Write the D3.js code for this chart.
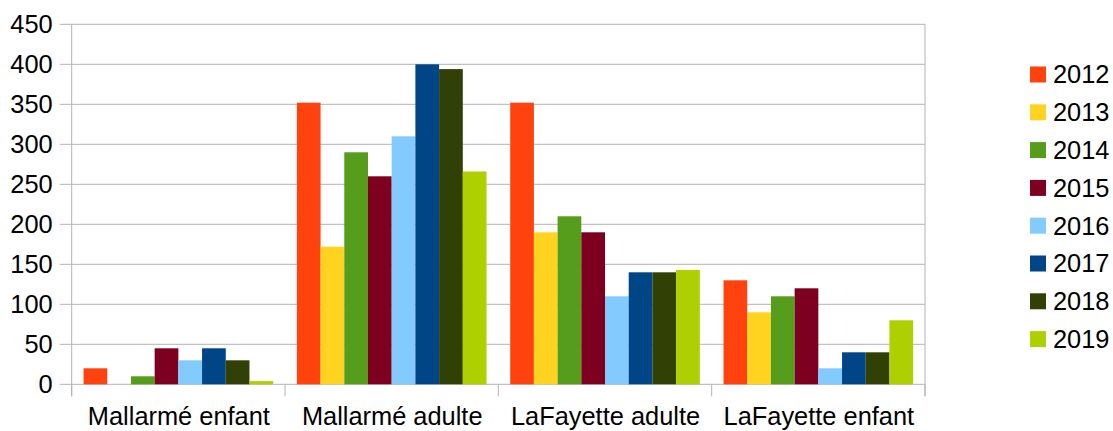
<!DOCTYPE html>
<html>
<head>
<meta charset="utf-8">
<script src="https://cdn.jsdelivr.net/npm/d3@7"></script>
<style>
  body { margin: 0; background: #fff; }
  svg { font-family: "Liberation Sans", Arial, sans-serif; }
</style>
</head>
<body>
<div id="chart"></div>
<script>
var categories = ["Mallarmé enfant", "Mallarmé adulte", "LaFayette adulte", "LaFayette enfant"];
var years = ["2012", "2013", "2014", "2015", "2016", "2017", "2018", "2019"];
var colors = ["#ff420e", "#ffd320", "#579d1c", "#7e0021", "#83caff", "#004586", "#314004", "#aecf00"];

// one array per year, values in category order
var v2012 = [20, 352, 352, 130];
var v2013 = [0, 172, 190, 90];
var v2014 = [10, 290, 210, 110];
var v2015 = [45, 260, 190, 120];
var v2016 = [30, 310, 110, 20];
var v2017 = [45, 400, 140, 40];
var v2018 = [30, 394, 140, 40];
var v2019 = [4, 266, 143, 80];
var yTicks = [0, 50, 100, 150, 200, 250, 300, 350, 400, 450];

var series = [v2012, v2013, v2014, v2015, v2016, v2017, v2018, v2019];

var width = 1113, height = 431;
var plotLeft = 71.7, plotRight = 925, plotTop = 24.3, plotBottom = 384.3;
var fontSize = "25.4px";

var svg = d3.select("#chart").append("svg")
    .attr("width", width)
    .attr("height", height);

var y = d3.scaleLinear().domain([0, 450]).range([plotBottom, plotTop]);

var x0 = d3.scaleBand()
    .domain(categories)
    .range([plotLeft, plotRight])
    .paddingInner(1 / 9)
    .paddingOuter(1 / 18);

var x1 = d3.scaleBand()
    .domain(years)
    .range([0, x0.bandwidth()]);

// gridlines
svg.append("g")
    .selectAll("line")
    .data(yTicks)
    .enter()
    .append("line")
    .attr("x1", plotLeft - 12)
    .attr("x2", plotRight)
    .attr("y1", function(d) { return y(d); })
    .attr("y2", function(d) { return y(d); })
    .attr("stroke", "#b3b3b3")
    .attr("stroke-width", 1);

// y axis labels
var yAxis = svg.append("g")
    .attr("transform", "translate(" + plotLeft + ",0)")
    .call(d3.axisLeft(y).tickValues(yTicks).tickSize(0).tickPadding(19));
yAxis.select(".domain").remove();
yAxis.selectAll("text")
    .attr("fill", "#000")
    .style("font-size", fontSize)
    .style("font-family", "Liberation Sans, Arial, sans-serif");

// bars
var data = [];
categories.forEach(function(c, ci) {
    years.forEach(function(yr, yi) {
        data.push({ cat: c, year: yr, value: series[yi][ci], color: colors[yi] });
    });
});

svg.append("g")
    .selectAll("rect")
    .data(data)
    .enter()
    .append("rect")
    .attr("x", function(d) { return x0(d.cat) + x1(d.year); })
    .attr("y", function(d) { return y(d.value); })
    .attr("width", x1.bandwidth())
    .attr("height", function(d) { return plotBottom - y(d.value); })
    .attr("fill", function(d) { return d.color; });

// plot walls
svg.append("line")
    .attr("x1", plotLeft).attr("x2", plotLeft)
    .attr("y1", plotTop).attr("y2", plotBottom + 12)
    .attr("stroke", "#b3b3b3");
svg.append("line")
    .attr("x1", plotRight).attr("x2", plotRight)
    .attr("y1", plotTop).attr("y2", plotBottom + 12)
    .attr("stroke", "#b3b3b3");

// x axis
var xAxis = svg.append("g")
    .attr("transform", "translate(0," + plotBottom + ")")
    .call(d3.axisBottom(d3.scalePoint().domain(categories).range([plotLeft, plotRight]).padding(0.5))
        .tickSize(0).tickPadding(23));
xAxis.select(".domain").remove();
xAxis.selectAll("text")
    .attr("fill", "#000")
    .style("font-size", fontSize)
    .style("font-family", "Liberation Sans, Arial, sans-serif");

// category separators
var step = (plotRight - plotLeft) / categories.length;
svg.append("g")
    .selectAll("line")
    .data(d3.range(categories.length + 1))
    .enter()
    .append("line")
    .attr("x1", function(i) { return plotLeft + i * step; })
    .attr("x2", function(i) { return plotLeft + i * step; })
    .attr("y1", plotBottom)
    .attr("y2", plotBottom + 12)
    .attr("stroke", "#b3b3b3");

// legend
var legend = svg.append("g")
    .attr("transform", "translate(1030,66.5)");
var item = legend.selectAll("g")
    .data(years)
    .enter()
    .append("g")
    .attr("transform", function(d, i) { return "translate(0," + (i * 37.8) + ")"; });
item.append("rect")
    .attr("width", 16)
    .attr("height", 16)
    .attr("fill", function(d, i) { return colors[i]; });
item.append("text")
    .attr("x", 23)
    .attr("y", 8)
    .attr("dy", "0.35em")
    .style("font-size", fontSize)
    .text(function(d) { return d; });
</script>
</body>
</html>
